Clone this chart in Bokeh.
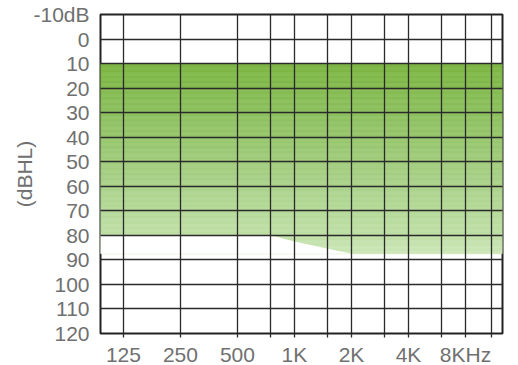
import numpy as np
from bokeh.plotting import figure
from bokeh.models import FixedTicker, Range1d
from bokeh.embed import file_html
from bokeh.resources import INLINE

# ---- data ----
freq_labels = [125, 250, 500, 1000, 2000, 4000, 8000]
freq_label_text = ["125", "250", "500", "1K", "2K", "4K", "8KHz"]
grid_freqs = [125, 250, 500, 750, 1000, 1500, 2000, 3000, 4000, 6000, 8000, 11000]
db_ticks = [-10, 0, 10, 20, 30, 40, 50, 60, 70, 80, 90, 100, 110, 120]
db_tick_text = ["-10dB", "0", "10", "20", "30", "40", "50", "60", "70", "80", "90", "100", "110", "120"]

x_lo, x_hi = 94.6, 12543
fill_top_db = 10
bound_freq = [x_lo, 750, 1000, 1500, 2000, x_hi]
bound_db = [80, 80, 82.5, 85.5, 87.5, 87.5]

# gradient stops (dB -> rgb), styling only
stop_db = [10, 20, 40, 57, 80, 87.5]
stop_rgb = np.array([[124, 182, 66], [132, 187, 80], [150, 198, 108],
                     [168, 209, 135], [192, 224, 167], [205, 231, 185]], dtype=float)

TEXT = "#707070"
LINE = "#2a2a2a"
FONT = "Liberation Sans"

p = figure(x_axis_type="log", x_range=Range1d(x_lo, x_hi), y_range=Range1d(120, -10),
           frame_width=402, frame_height=319, output_backend="svg", toolbar_location=None,
           min_border_left=100, min_border_top=14, min_border_right=16, min_border_bottom=30,
           background_fill_color="white", border_fill_color="white")

# gradient band
fill_bottom = max(bound_db)
edges = np.arange(fill_top_db, fill_bottom + 0.001, 0.5)
mids = (edges[:-1] + edges[1:]) / 2
cols = []
for m in mids:
    r = np.interp(m, stop_db, stop_rgb[:, 0])
    g = np.interp(m, stop_db, stop_rgb[:, 1])
    b = np.interp(m, stop_db, stop_rgb[:, 2])
    cols.append("#%02x%02x%02x" % (int(r), int(g), int(b)))
p.quad(left=x_lo, right=x_hi, top=edges[:-1], bottom=edges[1:],
       fill_color=cols, line_color=cols, line_width=0.6)

# white cut-out below the boundary
p.varea(x=bound_freq, y1=bound_db, y2=[fill_bottom] * len(bound_db), fill_color="white")

# grid (frame edges included so the border stays on top)
p.xgrid.ticker = FixedTicker(ticks=[x_lo] + grid_freqs + [x_hi])
p.ygrid.ticker = FixedTicker(ticks=db_ticks)
for g in (p.xgrid[0], p.ygrid[0]):
    g.grid_line_color = LINE
    g.grid_line_width = 1.3
    g.level = "overlay"

p.outline_line_color = "#222222"
p.outline_line_width = 2

# x axis
xa = p.xaxis[0]
xa.ticker = FixedTicker(ticks=grid_freqs)
ov = {f: "" for f in grid_freqs}
for f, t in zip(freq_labels, freq_label_text):
    ov[f] = t
xa.major_label_overrides = ov
xa.axis_line_color = None
xa.major_tick_line_color = LINE
xa.major_tick_line_width = 1.3
xa.major_tick_out = 4
xa.major_tick_in = 0
xa.major_label_standoff = 5
xa.major_label_text_font = FONT
xa.major_label_text_font_size = "21px"
xa.major_label_text_color = TEXT

# y axis
ya = p.yaxis[0]
ya.ticker = FixedTicker(ticks=db_ticks)
ya.major_label_overrides = {v: t for v, t in zip(db_ticks, db_tick_text)}
ya.axis_line_color = None
ya.major_tick_line_color = None
ya.major_tick_out = 0
ya.major_tick_in = 0
ya.major_label_standoff = 11
ya.major_label_text_font = FONT
ya.major_label_text_font_size = "21px"
ya.major_label_text_color = TEXT
ya.axis_label = "(dBHL)"
ya.axis_label_text_font = FONT
ya.axis_label_text_font_size = "21px"
ya.axis_label_text_font_style = "normal"
ya.axis_label_text_color = TEXT
ya.axis_label_standoff = -6

open("out.html", "w").write(file_html(p, INLINE))
